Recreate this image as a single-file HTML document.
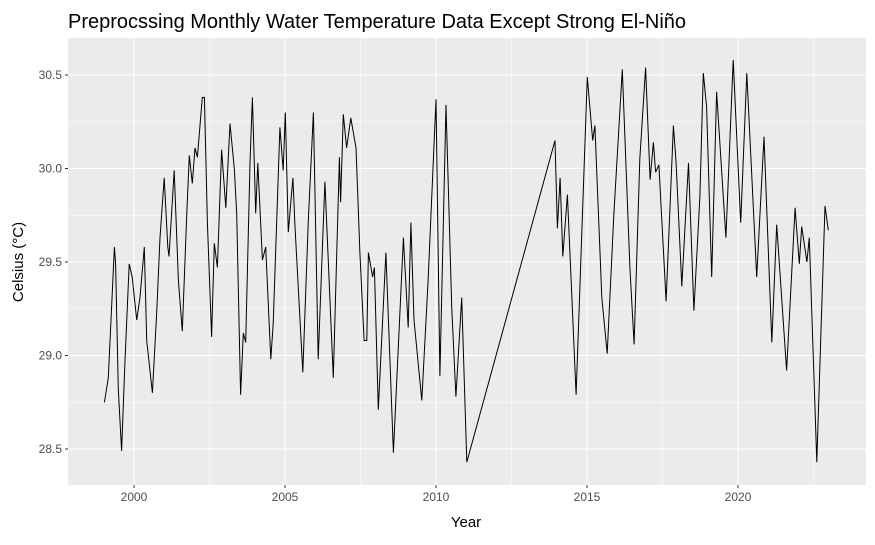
<!DOCTYPE html>
<html><head><meta charset="utf-8"><style>
body{margin:0;background:#fff;font-family:"Liberation Sans",sans-serif}
svg text{font-family:"Liberation Sans",sans-serif}
</style></head><body>
<svg id="chart" width="875" height="540">
<text x="68" y="28" font-size="20" fill="#000">Preprocssing Monthly Water Temperature Data Except Strong El-Niño</text>
<rect x="68" y="38" width="798" height="447" fill="#ebebeb"/>
<g id="grid"></g><g id="axes"></g>
<path id="line" fill="none" stroke="#000" stroke-width="1"/>
<text x="466" y="527" font-size="15" text-anchor="middle">Year</text>
<text transform="translate(23,262) rotate(-90)" font-size="15" text-anchor="middle">Celsius (°C)</text>
</svg>
<script>
const years=[1999.02,1999.15,1999.35,1999.39,1999.48,1999.59,1999.70,1999.84,1999.94,2000.09,2000.20,2000.34,2000.42,2000.61,2000.75,2000.86,2001.00,2001.12,2001.16,2001.33,2001.47,2001.60,2001.75,2001.83,2001.93,2002.02,2002.10,2002.26,2002.33,2002.43,2002.57,2002.66,2002.76,2002.90,2003.04,2003.18,2003.32,2003.40,2003.53,2003.62,2003.70,2003.84,2003.92,2004.03,2004.10,2004.25,2004.36,2004.53,2004.61,2004.83,2004.94,2005.01,2005.11,2005.26,2005.33,2005.59,2005.77,2005.94,2006.10,2006.32,2006.60,2006.80,2006.84,2006.93,2007.04,2007.18,2007.35,2007.48,2007.62,2007.71,2007.76,2007.90,2007.96,2008.09,2008.34,2008.59,2008.92,2009.08,2009.17,2009.27,2009.53,2009.74,2010.00,2010.13,2010.33,2010.52,2010.66,2010.85,2011.02,2013.94,2014.02,2014.11,2014.20,2014.35,2014.64,2015.01,2015.19,2015.26,2015.49,2015.67,2015.89,2016.17,2016.42,2016.56,2016.75,2016.94,2017.09,2017.20,2017.27,2017.38,2017.62,2017.86,2017.95,2018.14,2018.36,2018.54,2018.74,2018.85,2018.96,2019.13,2019.29,2019.60,2019.84,2020.09,2020.29,2020.62,2020.86,2021.12,2021.28,2021.61,2021.89,2022.03,2022.11,2022.28,2022.36,2022.61,2022.88,2022.99];
const temps=[28.75,28.88,29.58,29.49,28.82,28.49,28.96,29.49,29.42,29.19,29.31,29.58,29.08,28.80,29.23,29.63,29.95,29.58,29.53,29.99,29.40,29.13,29.76,30.07,29.92,30.11,30.06,30.38,30.38,29.71,29.10,29.60,29.47,30.10,29.79,30.24,30.00,29.76,28.79,29.12,29.07,30.03,30.38,29.76,30.03,29.51,29.58,28.98,29.17,30.22,29.99,30.30,29.66,29.95,29.69,28.91,29.72,30.30,28.98,29.93,28.88,30.06,29.82,30.29,30.11,30.27,30.11,29.55,29.08,29.08,29.55,29.42,29.47,28.71,29.55,28.48,29.63,29.15,29.71,29.19,28.76,29.40,30.37,28.89,30.34,29.26,28.78,29.31,28.43,30.15,29.68,29.95,29.53,29.86,28.79,30.49,30.15,30.23,29.31,29.01,29.76,30.53,29.47,29.06,30.05,30.54,29.94,30.14,29.98,30.02,29.29,30.23,30.03,29.37,30.03,29.24,29.85,30.51,30.33,29.42,30.41,29.63,30.58,29.71,30.51,29.42,30.17,29.07,29.70,28.92,29.79,29.49,29.69,29.50,29.63,28.43,29.80,29.67];
const xTicks=[2000,2005,2010,2015,2020];
const yTicks=[28.5,29.0,29.5,30.0,30.5];
const yTickLabels=["28.5","29.0","29.5","30.0","30.5"];
const X=v=>134+(v-2000)*30.2;
const Y=v=>75+(30.5-v)*187;
const NS="http://www.w3.org/2000/svg";
const grid=document.getElementById('grid'),axes=document.getElementById('axes');
function ln(p,x1,y1,x2,y2,c,w){const l=document.createElementNS(NS,'line');l.setAttribute('x1',x1);l.setAttribute('y1',y1);l.setAttribute('x2',x2);l.setAttribute('y2',y2);l.setAttribute('stroke',c);l.setAttribute('stroke-width',w);p.appendChild(l);return l;}
function tx(p,x,y,s,a){const t=document.createElementNS(NS,'text');t.setAttribute('x',x);t.setAttribute('y',y);t.setAttribute('font-size',12);t.setAttribute('fill','#4d4d4d');t.setAttribute('text-anchor',a);t.textContent=s;p.appendChild(t);return t;}
for(let i=0;i<yTicks.length;i++){
 if(i<yTicks.length-1){const m=ln(grid,68,Y(yTicks[i]+0.25),866,Y(yTicks[i]+0.25),'#fff',0.5);
 
 }
 const g=ln(grid,68,Y(yTicks[i]),866,Y(yTicks[i]),'#fff',1.1);
 
 
 ln(axes,65,Y(yTicks[i]),68,Y(yTicks[i]),'#333',1);
 const t=tx(axes,62,Y(yTicks[i])+4,yTickLabels[i],'end');
 
 
}
const minors=[xTicks[0]-2.5].concat(xTicks.map(v=>v+2.5));
minors.forEach(v=>{const m=ln(grid,X(v),38,X(v),485,'#fff',0.5);
 
 });
xTicks.forEach(v=>{const g=ln(grid,X(v),38,X(v),485,'#fff',1.1);
 
 
 ln(axes,X(v),485,X(v),488,'#333',1);
 const t=tx(axes,X(v),501,String(v),'middle');
 
 });
document.getElementById('line').setAttribute('d',years.map((y,i)=>(i?'L':'M')+X(y).toFixed(1)+','+Y(temps[i]).toFixed(1)).join(''));
</script>
</body></html>
